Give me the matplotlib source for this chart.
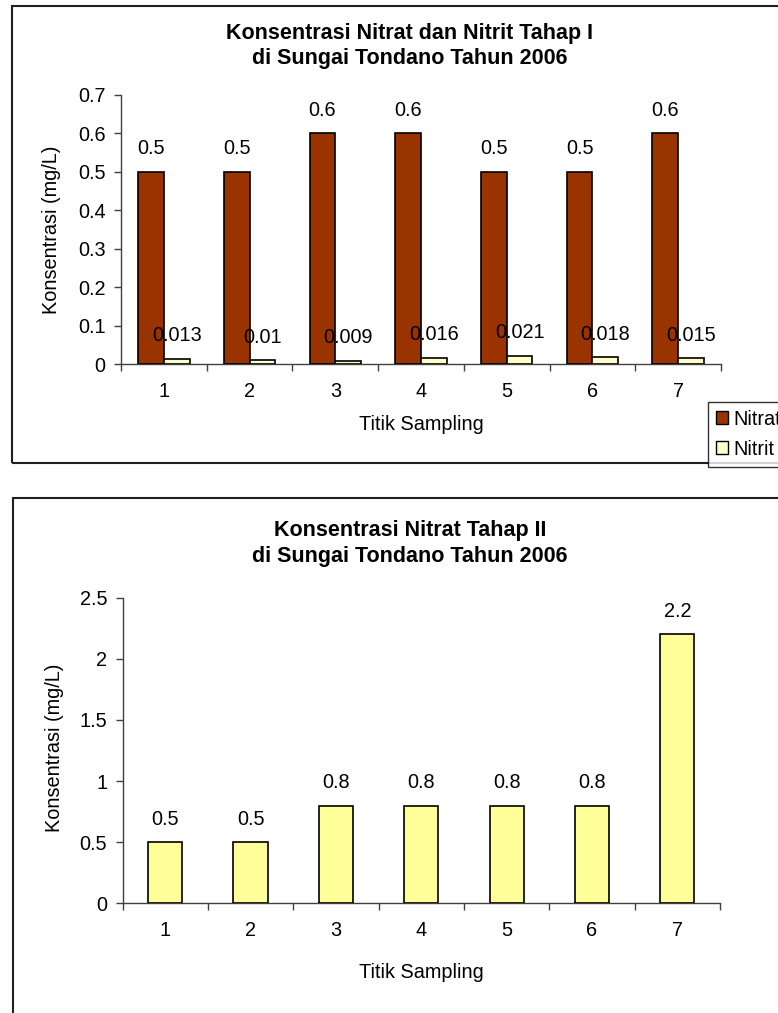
import matplotlib
matplotlib.use("Agg")
import matplotlib.pyplot as plt
from matplotlib.patches import Rectangle, Patch

# Data
titik = ["1", "2", "3", "4", "5", "6", "7"]
nitrat_1 = [0.5, 0.5, 0.6, 0.6, 0.5, 0.5, 0.6]
nitrit_1 = [0.013, 0.01, 0.009, 0.016, 0.021, 0.018, 0.015]
nitrat_2 = [0.5, 0.5, 0.8, 0.8, 0.8, 0.8, 2.2]

yticks_1 = [0, 0.1, 0.2, 0.3, 0.4, 0.5, 0.6, 0.7]
yticks_2 = [0, 0.5, 1, 1.5, 2, 2.5]

W, H = 778, 1013
plt.rcParams['font.family'] = ['Liberation Sans', 'DejaVu Sans']
FS = 14.3
FS_T = 15.5
AXC = '#404040'

fig = plt.figure(figsize=(W / 100, H / 100), dpi=100)


def box(x0, y0, x1, y1):
    """axes rectangle from pixel coords (top-left origin)"""
    return [x0 / W, 1 - y1 / H, (x1 - x0) / W, (y1 - y0) / H]


def gaya_sumbu(ax, yt):
    ax.set_xlim(-0.5, 6.5)
    ax.set_ylim(yt[0], yt[-1])
    for s in ['top', 'right']:
        ax.spines[s].set_visible(False)
    for s in ['left', 'bottom']:
        ax.spines[s].set_color(AXC)
        ax.spines[s].set_linewidth(1.0)
    ax.set_yticks(yt, [f"{v:g}" for v in yt])
    ax.tick_params(axis='y', direction='out', length=5, width=1, color=AXC,
                   labelsize=FS, pad=6)
    ax.set_xticks(range(len(titik)), titik)
    ax.tick_params(axis='x', which='major', length=0, labelsize=FS, pad=13)
    ax.set_xticks([i - 0.5 for i in range(len(titik) + 1)], minor=True)
    ax.tick_params(axis='x', which='minor', direction='out', length=5,
                   width=1, color=AXC)
    ax.patch.set_alpha(0)


def label_batang(ax, xs, vals):
    for x, v in zip(xs, vals):
        ax.annotate(f"{v:g}", (x, v), xytext=(0, 23), textcoords='offset pixels',
                    ha='center', va='center', fontsize=FS)


# Frames
fig.add_artist(Rectangle((11.7 / W, 1 - 463.3 / H), (820 - 11.7) / W, (463.3 - 6.3) / H,
                         transform=fig.transFigure, fill=False, ec='#202020', lw=1.5))
fig.add_artist(Rectangle((13.3 / W, 1 - 1040 / H), (820 - 13.3) / W, (1040 - 497.7) / H,
                         transform=fig.transFigure, fill=False, ec='#202020', lw=1.5))

# Chart 1
ax1 = fig.add_axes(box(121, 94.7, 721, 364))
gaya_sumbu(ax1, yticks_1)
x = list(range(len(titik)))
x_nitrat = [i - 0.15 for i in x]
x_nitrit = [i + 0.15 for i in x]
ax1.bar(x_nitrat, nitrat_1, width=0.3, color='#993300', edgecolor='black', linewidth=1.2, zorder=3)
ax1.bar(x_nitrit, nitrit_1, width=0.3, color='#FFFFCC', edgecolor='black', linewidth=1.2, zorder=3)
label_batang(ax1, x_nitrat, nitrat_1)
label_batang(ax1, x_nitrit, nitrit_1)

fig.text(410 / W, 1 - 46 / H, "Konsentrasi Nitrat dan Nitrit Tahap I\ndi Sungai Tondano Tahun 2006",
         ha='center', va='center', fontsize=FS_T, fontweight='bold', linespacing=1.3)
fig.text(52 / W, 1 - 230 / H, "Konsentrasi (mg/L)", rotation=90, ha='center', va='center', fontsize=FS)
fig.text(421 / W, 1 - 425 / H, "Titik Sampling", ha='center', va='center', fontsize=FS)

handles = [Patch(facecolor='#993300', edgecolor='black', label='Nitrat'),
           Patch(facecolor='#FFFFCC', edgecolor='black', label='Nitrit')]
leg = fig.legend(handles=handles, loc='upper left', bbox_to_anchor=(707.7 / W, 1 - 401.7 / H),
                 fontsize=FS, frameon=True, fancybox=False, handlelength=0.6, handleheight=0.6,
                 handletextpad=0.3, labelspacing=0.55, borderpad=0.4, borderaxespad=0)
leg.get_frame().set_edgecolor('black')
leg.get_frame().set_linewidth(1.0)

# Chart 2
ax2 = fig.add_axes(box(122.5, 597.7, 720, 903.3))
gaya_sumbu(ax2, yticks_2)
ax2.bar(x, nitrat_2, width=0.4, color='#FFFF99', edgecolor='black', linewidth=1.2, zorder=3)
label_batang(ax2, x, nitrat_2)

fig.text(410 / W, 1 - 543.5 / H, "Konsentrasi Nitrat Tahap II\ndi Sungai Tondano Tahun 2006",
         ha='center', va='center', fontsize=FS_T, fontweight='bold', linespacing=1.3)
fig.text(55 / W, 1 - 748 / H, "Konsentrasi (mg/L)", rotation=90, ha='center', va='center', fontsize=FS)
fig.text(421 / W, 1 - 972 / H, "Titik Sampling", ha='center', va='center', fontsize=FS)

fig.savefig("out.png", dpi=100)
